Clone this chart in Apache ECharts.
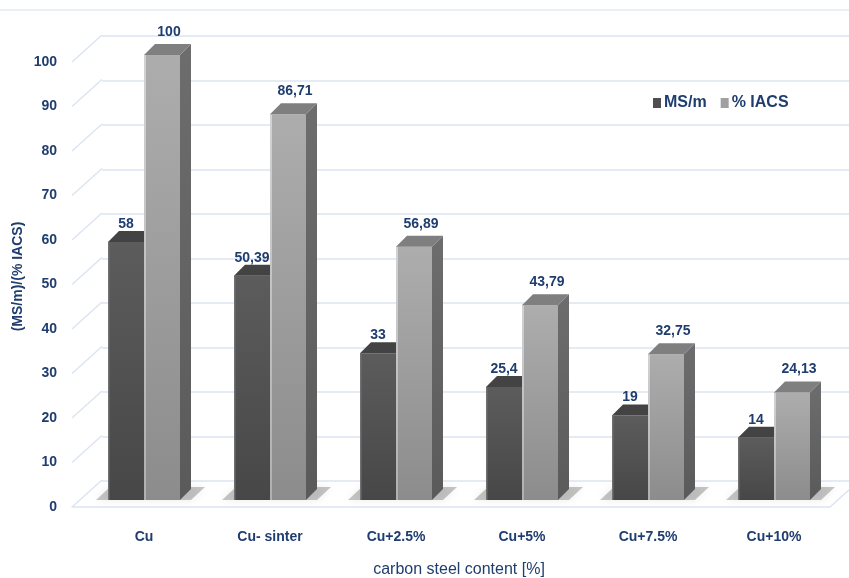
<!DOCTYPE html>
<html>
<head>
<meta charset="utf-8">
<script src="https://cdn.jsdelivr.net/npm/echarts@6/dist/echarts.min.js"></script>
<style>
  html, body { margin: 0; padding: 0; background: #fff; }
  #chart { width: 849px; height: 578px; }
</style>
</head>
<body>
<div id="chart"></div>
<script>
// Electrical conductivity of Cu and Cu + carbon steel composites
const categories = ['Cu', 'Cu- sinter', 'Cu+2.5%', 'Cu+5%', 'Cu+7.5%', 'Cu+10%'];
const msPerM = [58, 50.39, 33, 25.4, 19, 14];
const iacs = [100, 86.71, 56.89, 43.79, 32.75, 24.13];
const valueTicks = [0, 10, 20, 30, 40, 50, 60, 70, 80, 90, 100];

const TEXT = '#1f3d6e';
const GRIDC = '#dbe5f1';
const FONT = '"Liberation Sans", Arial, sans-serif';
const DEPTH_X = 11, DEPTH_Y = -11;        // bar depth
const WALL_X = 30, WALL_Y = -27;          // floor depth (front edge to back wall)

const fmt = v => String(v).replace('.', ',');

function lin(c0, c1) {
  return new echarts.graphic.LinearGradient(0, 0, 0, 1, [
    { offset: 0, color: c0 }, { offset: 1, color: c1 }
  ]);
}

// one 3D bar: front face, optional side face, top face and value label
function barItem(params, api, side) {
  const i = api.value(0), v = api.value(1);
  const top = api.coord([i, v]);
  const base = api.coord([i, 0]);
  const band = api.size([1, 0])[0];
  const w = band * 36 / 126;
  const x0 = side === 0 ? top[0] - w : top[0];
  const x1 = x0 + w;
  const t = top[1], b = base[1];
  const children = [];
  if (side === 0) {
    children.push({ type: 'rect', shape: { x: x0, y: t, width: w, height: b - t },
      style: { fill: lin('#5c5c5c', '#474747') } });
    children.push({ type: 'rect', shape: { x: x0, y: t, width: 1.5, height: b - t },
      style: { fill: '#707070' } });
    children.push({ type: 'polygon', shape: { points: [[x0, t], [x0 + DEPTH_X, t + DEPTH_Y], [x1, t + DEPTH_Y], [x1, t]] },
      style: { fill: '#434343' } });
    children.push({ type: 'text', x: x0 + w / 2, y: t - 18,
      style: { text: fmt(v), fill: TEXT, font: 'bold 14px ' + FONT, align: 'center', verticalAlign: 'middle' } });
  } else {
    children.push({ type: 'rect', shape: { x: x0, y: t, width: w, height: b - t },
      style: { fill: lin('#adadad', '#8c8c8c') } });
    children.push({ type: 'rect', shape: { x: x0, y: t, width: 2, height: b - t },
      style: { fill: lin('#d2d2d2', '#b0b0b0') } });
    children.push({ type: 'polygon', shape: { points: [[x1, t], [x1 + DEPTH_X, t + DEPTH_Y], [x1 + DEPTH_X, b + DEPTH_Y], [x1, b]] },
      style: { fill: lin('#6d6d6d', '#5a5a5a') } });
    children.push({ type: 'polygon', shape: { points: [[x0, t], [x0 + DEPTH_X, t + DEPTH_Y], [x1 + DEPTH_X, t + DEPTH_Y], [x1, t]] },
      style: { fill: '#7f7f7f' } });
    children.push({ type: 'text', x: x0 + w / 2 + 7, y: t - 23,
      style: { text: fmt(v), fill: TEXT, font: 'bold 14px ' + FONT, align: 'center', verticalAlign: 'middle' } });
  }
  return { type: 'group', children };
}

// soft floor shadow under each pair of bars
function shadowItem(params, api) {
  const i = api.value(0);
  const c = api.coord([i, 0]);
  const band = api.size([1, 0])[0];
  const w = band * 36 / 126;
  const xl = c[0] - w, xr = c[0] + w + DEPTH_X;
  const b = c[1];
  return {
    type: 'polygon',
    shape: { points: [[xl - 12, b], [xl + 2, b - 13], [xr + 14, b - 13], [xr, b]] },
    style: { fill: 'rgba(0,0,0,0.22)', shadowBlur: 10, shadowColor: 'rgba(0,0,0,0.35)' }
  };
}

// diagonal edges joining the front labels to the back wall gridlines
function wallEdge(params, api) {
  const v = api.value(0);
  const p = api.coord([0, v]);
  const children = [{ type: 'line', shape: { x1: p[0], y1: p[1], x2: p[0] + WALL_X, y2: p[1] + WALL_Y },
    style: { stroke: GRIDC, lineWidth: 1.5 } }];
  if (v === 0) {
    const q = api.coord([1, 0]);
    children.push({ type: 'line', shape: { x1: q[0], y1: q[1], x2: q[0] + WALL_X, y2: q[1] + WALL_Y },
      style: { stroke: GRIDC, lineWidth: 1.5 } });
  }
  return { type: 'group', children };
}

const chart = echarts.init(document.getElementById('chart'), null, { renderer: 'canvas' });

chart.setOption({
  animation: false,
  backgroundColor: '#fff',
  textStyle: { fontFamily: FONT },
  graphic: [{
    type: 'line', shape: { x1: 0, y1: 10, x2: 849, y2: 10 },
    style: { stroke: '#e3eaf4', lineWidth: 1.5 }, z: -10
  }],
  legend: {
    left: 648, top: 90, itemWidth: 8, itemHeight: 10, itemGap: 14,
    icon: 'rect',
    data: ['MS/m', '% IACS'],
    textStyle: { color: TEXT, fontSize: 16, fontWeight: 'bold', fontFamily: FONT, padding: [0, 0, 0, -2] }
  },
  grid: [
    // bar plane
    { left: 81, right: 12, top: 55, bottom: 78, outerBoundsMode: 'none', containLabel: false },
    // back wall
    { left: 102, right: 0, top: 36, bottom: 97, outerBoundsMode: 'none', containLabel: false },
    // front edge, carries the value labels
    { left: 72, right: 19, top: 62, bottom: 71, outerBoundsMode: 'none', containLabel: false }
  ],
  xAxis: [
    { gridIndex: 0, type: 'category', data: categories,
      axisLine: { show: false }, axisTick: { show: false },
      axisLabel: { margin: 30, color: TEXT, fontSize: 14, fontWeight: 'bold', fontFamily: FONT },
      name: 'carbon steel content [%]', nameLocation: 'middle', nameGap: 62,
      nameTextStyle: { color: TEXT, fontSize: 16, fontFamily: FONT } },
    { gridIndex: 1, type: 'value', min: 0, max: 1, show: false },
    { gridIndex: 2, type: 'value', min: 0, max: 1,
      axisLine: { show: true, lineStyle: { color: GRIDC, width: 1.5 } },
      axisTick: { show: false }, axisLabel: { show: false }, splitLine: { show: false } }
  ],
  yAxis: [
    { gridIndex: 0, type: 'value', min: 0, max: 100, interval: 10, show: false },
    { gridIndex: 1, type: 'value', min: 0, max: 100, interval: 10,
      axisLine: { show: false }, axisTick: { show: false }, axisLabel: { show: false },
      splitLine: { show: true, lineStyle: { color: GRIDC, width: 1.5 } } },
    { gridIndex: 2, type: 'value', min: 0, max: 100, interval: 10,
      axisLine: { show: false }, axisTick: { show: false }, splitLine: { show: false },
      axisLabel: { margin: 15, color: TEXT, fontSize: 14, fontWeight: 'bold', fontFamily: FONT },
      name: '(MS/m)/(% IACS)', nameLocation: 'middle', nameGap: 47, nameRotate: 90,
      nameMoveOverlap: false,
      nameTextStyle: { color: TEXT, fontSize: 14, fontWeight: 'bold', fontFamily: FONT, padding: [0, 0, 0, 16] } }
  ],
  series: [
    { type: 'custom', name: 'edges', xAxisIndex: 2, yAxisIndex: 2, z: 1, silent: true,
      renderItem: wallEdge, data: valueTicks.map(v => [v]) },
    { type: 'custom', name: 'shadow', xAxisIndex: 0, yAxisIndex: 0, z: 2, silent: true,
      renderItem: shadowItem, data: categories.map((c, i) => [i]) },
    { type: 'custom', name: '% IACS', xAxisIndex: 0, yAxisIndex: 0, z: 3,
      itemStyle: { color: '#a0a0a0' },
      renderItem: (p, api) => barItem(p, api, 1),
      data: iacs.map((v, i) => [i, v]) },
    { type: 'custom', name: 'MS/m', xAxisIndex: 0, yAxisIndex: 0, z: 4,
      itemStyle: { color: '#4f4f4f' },
      renderItem: (p, api) => barItem(p, api, 0),
      data: msPerM.map((v, i) => [i, v]) }
  ]
});
</script>
</body>
</html>
